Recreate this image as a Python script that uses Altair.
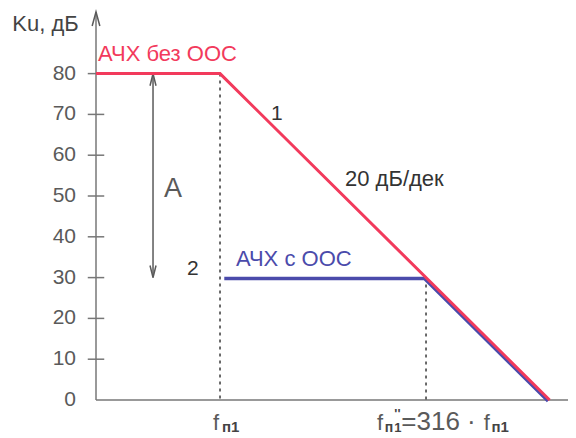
import altair as alt
import pandas as pd

# ---- data -------------------------------------------------------------
y_tick_values = [0, 10, 20, 30, 40, 50, 60, 70, 80]
cross_ticks = [10, 20, 30, 40, 50, 60, 70, 80]

# frequency axis in decades relative to f_п1 (log10(f / f_п1))
red_x = [-1.505, 0.0, 4.0]          # АЧХ без ООС
red_y = [80, 80, 0]
blue_x = [0.07, 2.5, 4.0]           # АЧХ с ООС
blue_y = [30, 30, 0]

dot1_x = [0.0, 0.0]
dot1_y = [80, 0]
dot2_x = [2.5, 2.5]
dot2_y = [30, 0]

arrow_x = [-0.813, -0.813]          # "A" double arrow
arrow_y = [80, 30]

title_y = "Ku, дБ"
label_red = "АЧХ без ООС"
label_blue = "АЧХ с ООС"
label_slope = "20 дБ/дек"
label_A = "A"
label_1 = "1"
label_2 = "2"

X0, X1 = -1.505, 4.223
Y0, Y1 = 0, 95.1
FONT = "Liberation Sans"
RED = "#f23a5c"
BLUE = "#4b4bab"
GRAY = "#5a5a5a"
AX = "#777777"

xs = alt.Scale(domain=[X0, X1], nice=False, zero=False)
ys = alt.Scale(domain=[Y0, Y1], nice=False, zero=False)


def enc(chart):
    return chart.encode(
        x=alt.X("x:Q", scale=xs, axis=None),
        y=alt.Y("y:Q", scale=ys, axis=None),
    )


def line_layer(xv, yv, color, width, dash=None, **kw):
    df = pd.DataFrame({"x": xv, "y": yv, "o": list(range(len(xv)))})
    props = dict(color=color, strokeWidth=width, clip=False)
    if dash:
        props["strokeDash"] = dash
    props.update(kw)
    return enc(alt.Chart(df).mark_line(**props)).encode(order="o:O")


def text_layer(s, x, y, size, color="#333333", align="left",
               baseline="middle", weight="normal"):
    df = pd.DataFrame({"x": [x], "y": [y], "t": [s]})
    return enc(alt.Chart(df).mark_text(
        align=align, baseline=baseline, fontSize=size, color=color,
        font=FONT, fontWeight=weight,
    )).encode(text="t:N")


def arrow_head(x, y, path, size):
    df = pd.DataFrame({"x": [x], "y": [y]})
    return enc(alt.Chart(df).mark_point(
        shape=path, size=size, filled=False, stroke=GRAY, strokeWidth=1.5,
        opacity=1,
    ))


# tick marks crossing the y axis
tick_df = pd.DataFrame({"y": cross_ticks})
tick_df["x"] = X0 - 0.1
tick_df["x2"] = X0 + 0.1
ticks = alt.Chart(tick_df).mark_rule(color=AX, strokeWidth=1.5).encode(
    x=alt.X("x:Q", scale=xs, axis=None),
    x2="x2:Q",
    y=alt.Y("y:Q", scale=ys, axis=None),
)

# y tick labels
lab_df = pd.DataFrame({"y": y_tick_values, "t": [str(v) for v in y_tick_values]})
lab_df["x"] = X0
ylabels = enc(alt.Chart(lab_df).mark_text(
    align="right", baseline="middle", dx=-20, fontSize=21, color=GRAY, font=FONT,
)).encode(text="t:N")

layers = [
    line_layer([X0, X0], [Y0, Y1], AX, 1.5),        # y axis
    line_layer([X0, X1], [Y0, Y0], AX, 1.5),        # x axis
    ticks,
    ylabels,
    arrow_head(X0, 93.4, "M-0.55,1L0,-1L0.55,1", 196),
    line_layer(dot1_x, dot1_y, "#3a3a3a", 1.5, dash=[3, 4]),
    line_layer(dot2_x, dot2_y, "#3a3a3a", 1.5, dash=[3, 4]),
    line_layer(arrow_x, arrow_y, GRAY, 1.5),
    arrow_head(arrow_x[0], 78.5, "M-0.5,1L0,-1L0.5,1", 144),
    arrow_head(arrow_x[1], 31.5, "M-0.5,-1L0,1L0.5,-1", 144),
    line_layer(blue_x, blue_y, BLUE, 3.5, xOffset=-1.5, yOffset=1),
    line_layer(red_x, red_y, RED, 3),
    text_layer(title_y, -2.52, 92.2, 22, color="#444444"),
    text_layer(label_red, -1.48, 84.9, 22, color=RED),
    text_layer(label_blue, 0.194, 34.6, 22, color=BLUE),
    text_layer(label_1, 0.69, 70.2, 21, align="center"),
    text_layer(label_slope, 1.517, 54.1, 22),
    text_layer(label_A, -0.57, 51.7, 27, color=GRAY, align="center"),
    text_layer(label_2, -0.33, 32.2, 21, align="center"),
    # x labels: f_п1
    text_layer("f", -0.085, -7.3, 22, color=GRAY, baseline="alphabetic"),
    text_layer("п1", 0.024, -7.9, 15, color="#444444", baseline="alphabetic", weight="bold"),
    # f_п''1 = 316 · f_п1
    text_layer("f", 1.905, -7.3, 22, color=GRAY, baseline="alphabetic"),
    text_layer("п", 2.0, -7.9, 14, color="#444444", baseline="alphabetic", weight="bold"),
    text_layer("''", 2.115, -4.4, 13, color="#444444", baseline="alphabetic", weight="bold"),
    text_layer("1", 2.115, -7.9, 13, color="#444444", baseline="alphabetic", weight="bold"),
    text_layer("=316 ·", 2.2, -7.3, 26, color=GRAY, baseline="alphabetic"),
    text_layer("f", 3.2, -7.3, 22, color=GRAY, baseline="alphabetic"),
    text_layer("п1", 3.295, -7.9, 15, color="#444444", baseline="alphabetic", weight="bold"),
]

chart = alt.layer(*layers).properties(
    width=472,
    height=388,
    autosize=alt.AutoSizeParams(type="none"),
    padding={"left": 88, "top": 4, "right": 0, "bottom": 38},
    background="white",
).configure_view(stroke=None)

chart.save("out.html", embed_options={"renderer": "svg", "actions": False})
